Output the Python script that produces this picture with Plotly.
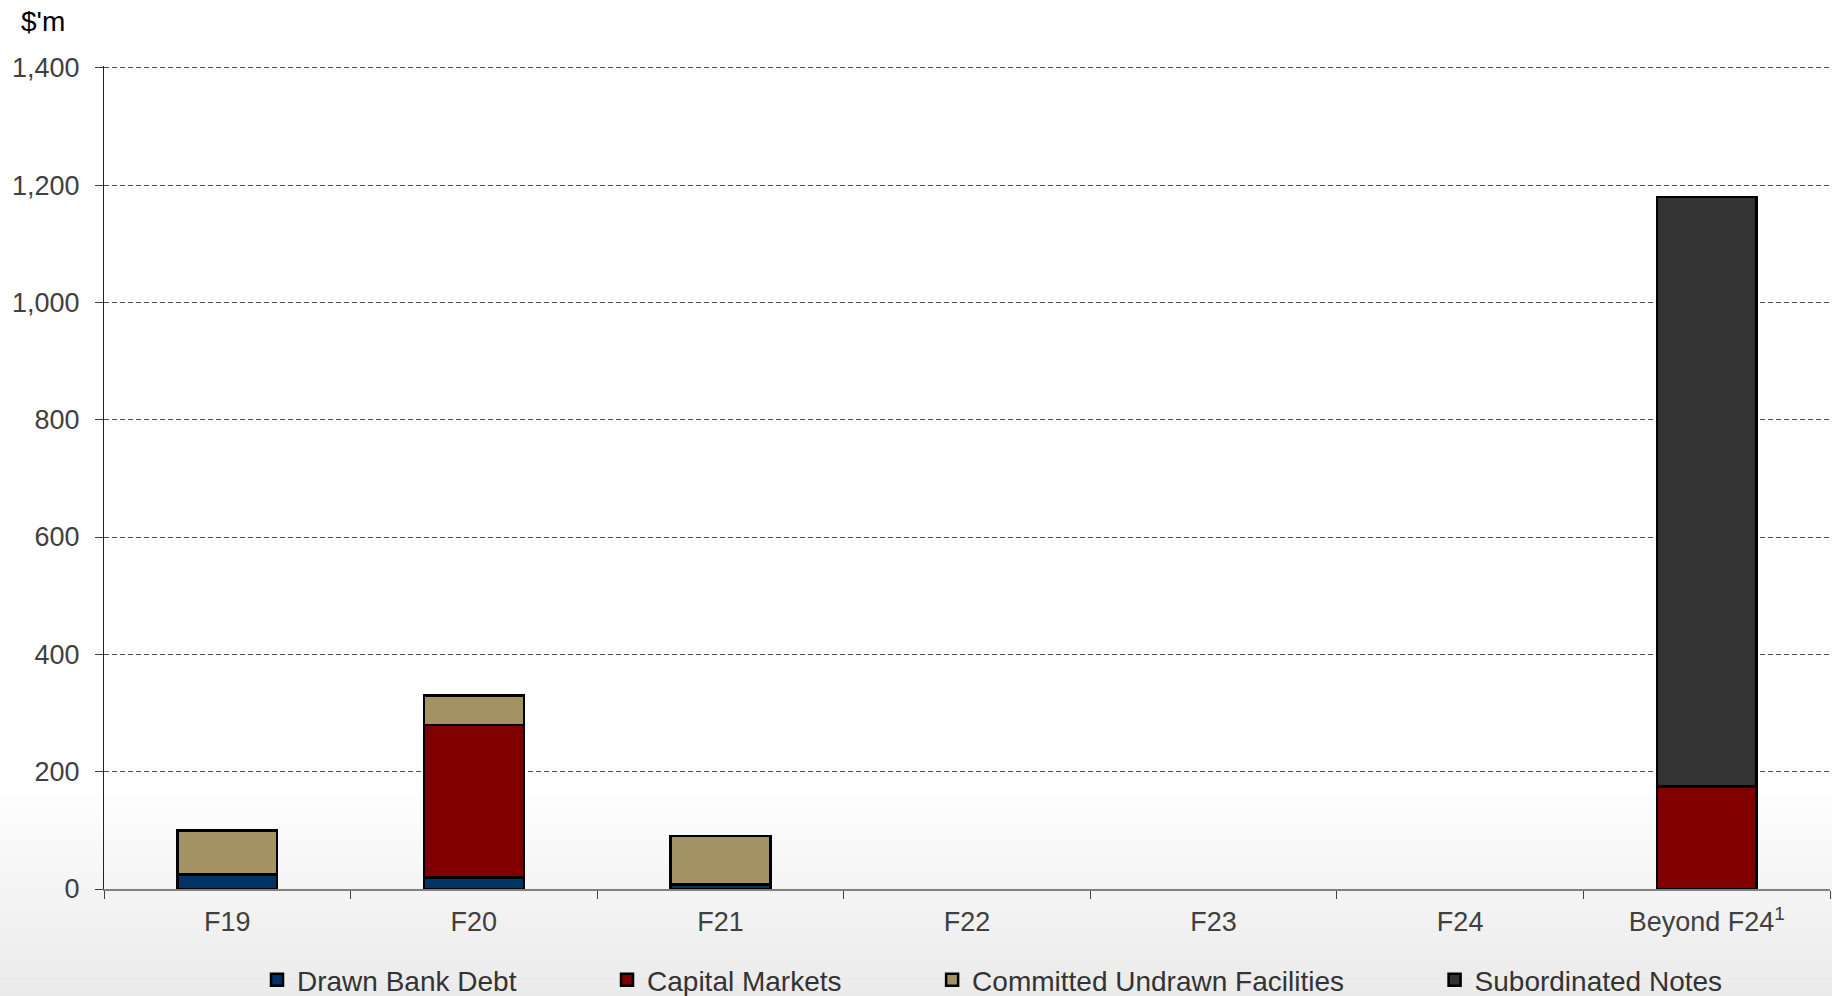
import plotly.graph_objects as go

categories = ["F19", "F20", "F21", "F22", "F23", "F24", "Beyond F24<sup>1</sup>"]
drawn_bank_debt = [25, 20, 8, None, None, None, None]
capital_markets = [None, 260, None, None, None, None, 175]
committed_undrawn = [75, 50, 82, None, None, None, None]
subordinated_notes = [None, None, None, None, None, None, 1005]

y_ticks = [0, 200, 400, 600, 800, 1000, 1200, 1400]
y_tick_labels = ["0", "200", "400", "600", "800", "1,000", "1,200", "1,400"]

series = [
    ("Drawn Bank Debt", drawn_bank_debt, "#003366"),
    ("Capital Markets", capital_markets, "#800000"),
    ("Committed Undrawn Facilities", committed_undrawn, "#A39262"),
    ("Subordinated Notes", subordinated_notes, "#333333"),
]

O = 0                     # body margin is removed in the page
VW, VH = 1832, 996
W, H = VW - O, VH - O
PX0, PX1 = 104, 1830      # plot left/right in viewport px
PY0, PY1 = 66, 889        # plot top/bottom in viewport px (range top slightly above 1,400)
L, R = PX0 - O, W - (PX1 - O)
T, B = PY0 - O, H - (PY1 - O)
PW, PH = PX1 - PX0, PY1 - PY0


def px(x):
    return (x - PX0) / PW


def py(y):
    return (PY1 - y) / PH


NB = "\u00a0"
pads = [11, 11, 11, 0]

fig = go.Figure()
for (name, vals, col), p in zip(series, pads):
    fig.add_trace(go.Bar(
        x=categories, y=vals, name=name + NB * p,
        marker=dict(color=col, line=dict(color="#000000", width=2.5)),
    ))

# background gradient near the bottom
shapes = []
y_start, y_end = 780, VH
n = 45
for i in range(n):
    y0 = y_start + (y_end - y_start) * i / n
    y1 = y_start + (y_end - y_start) * (i + 1) / n
    t = (i + 0.5) / n
    g = round(255 - 21 * t)
    shapes.append(dict(
        type="rect", xref="paper", yref="paper", layer="below",
        x0=px(0) - 0.01, x1=px(VW) + 0.01,
        y0=py(y1), y1=py(y0) + 0.0005,
        fillcolor=f"rgb({g},{g},{g})", line=dict(width=0),
    ))

fig.update_layout(
    width=W, height=H,
    margin=dict(l=L, r=R, t=T, b=B, autoexpand=False),
    paper_bgcolor="#ffffff",
    plot_bgcolor="rgba(0,0,0,0)",
    barmode="stack",
    bargap=0.595,
    shapes=shapes,
    font=dict(family="Liberation Sans, Arial, sans-serif", size=27, color="#404040"),
    showlegend=True,
    legend=dict(
        orientation="h", x=px(257), xanchor="left",
        yref="container", y=1 - (980 - O) / H, yanchor="middle",
        font=dict(size=28, color="#333333"),
        bgcolor="rgba(0,0,0,0)",
        itemwidth=30, tracegroupgap=0,
        traceorder="normal",
    ),
    annotations=[dict(
        text="$'m", xref="paper", yref="paper",
        x=px(19), y=py(21),
        xanchor="left", yanchor="middle", showarrow=False,
        font=dict(size=28, color="#000000"),
    )],
)

fig.update_xaxes(
    type="category",
    range=[-0.5, 6.5],
    showline=True, linecolor="#808080", linewidth=1.5,
    ticks="outside", tickson="boundaries", ticklen=8, tickcolor="#404040",
    tickwidth=1, ticklabelstandoff=8,
    showgrid=False, zeroline=False,
    tickfont=dict(size=27, color="#404040"),
)
fig.update_yaxes(
    range=[0, 1403],
    tickvals=y_ticks, ticktext=y_tick_labels,
    showline=True, linecolor="#222222", linewidth=1.2,
    ticks="outside", ticklen=8, tickcolor="#404040", tickwidth=1,
    ticklabelstandoff=10,
    showgrid=True, gridcolor="#505050", gridwidth=1, griddash="5px,3px",
    zeroline=False,
    tickfont=dict(size=27, color="#404040"),
)

fig.write_html(
    "out.html",
    config={"displayModeBar": False},
    post_script="document.body.style.margin='0';",
)
